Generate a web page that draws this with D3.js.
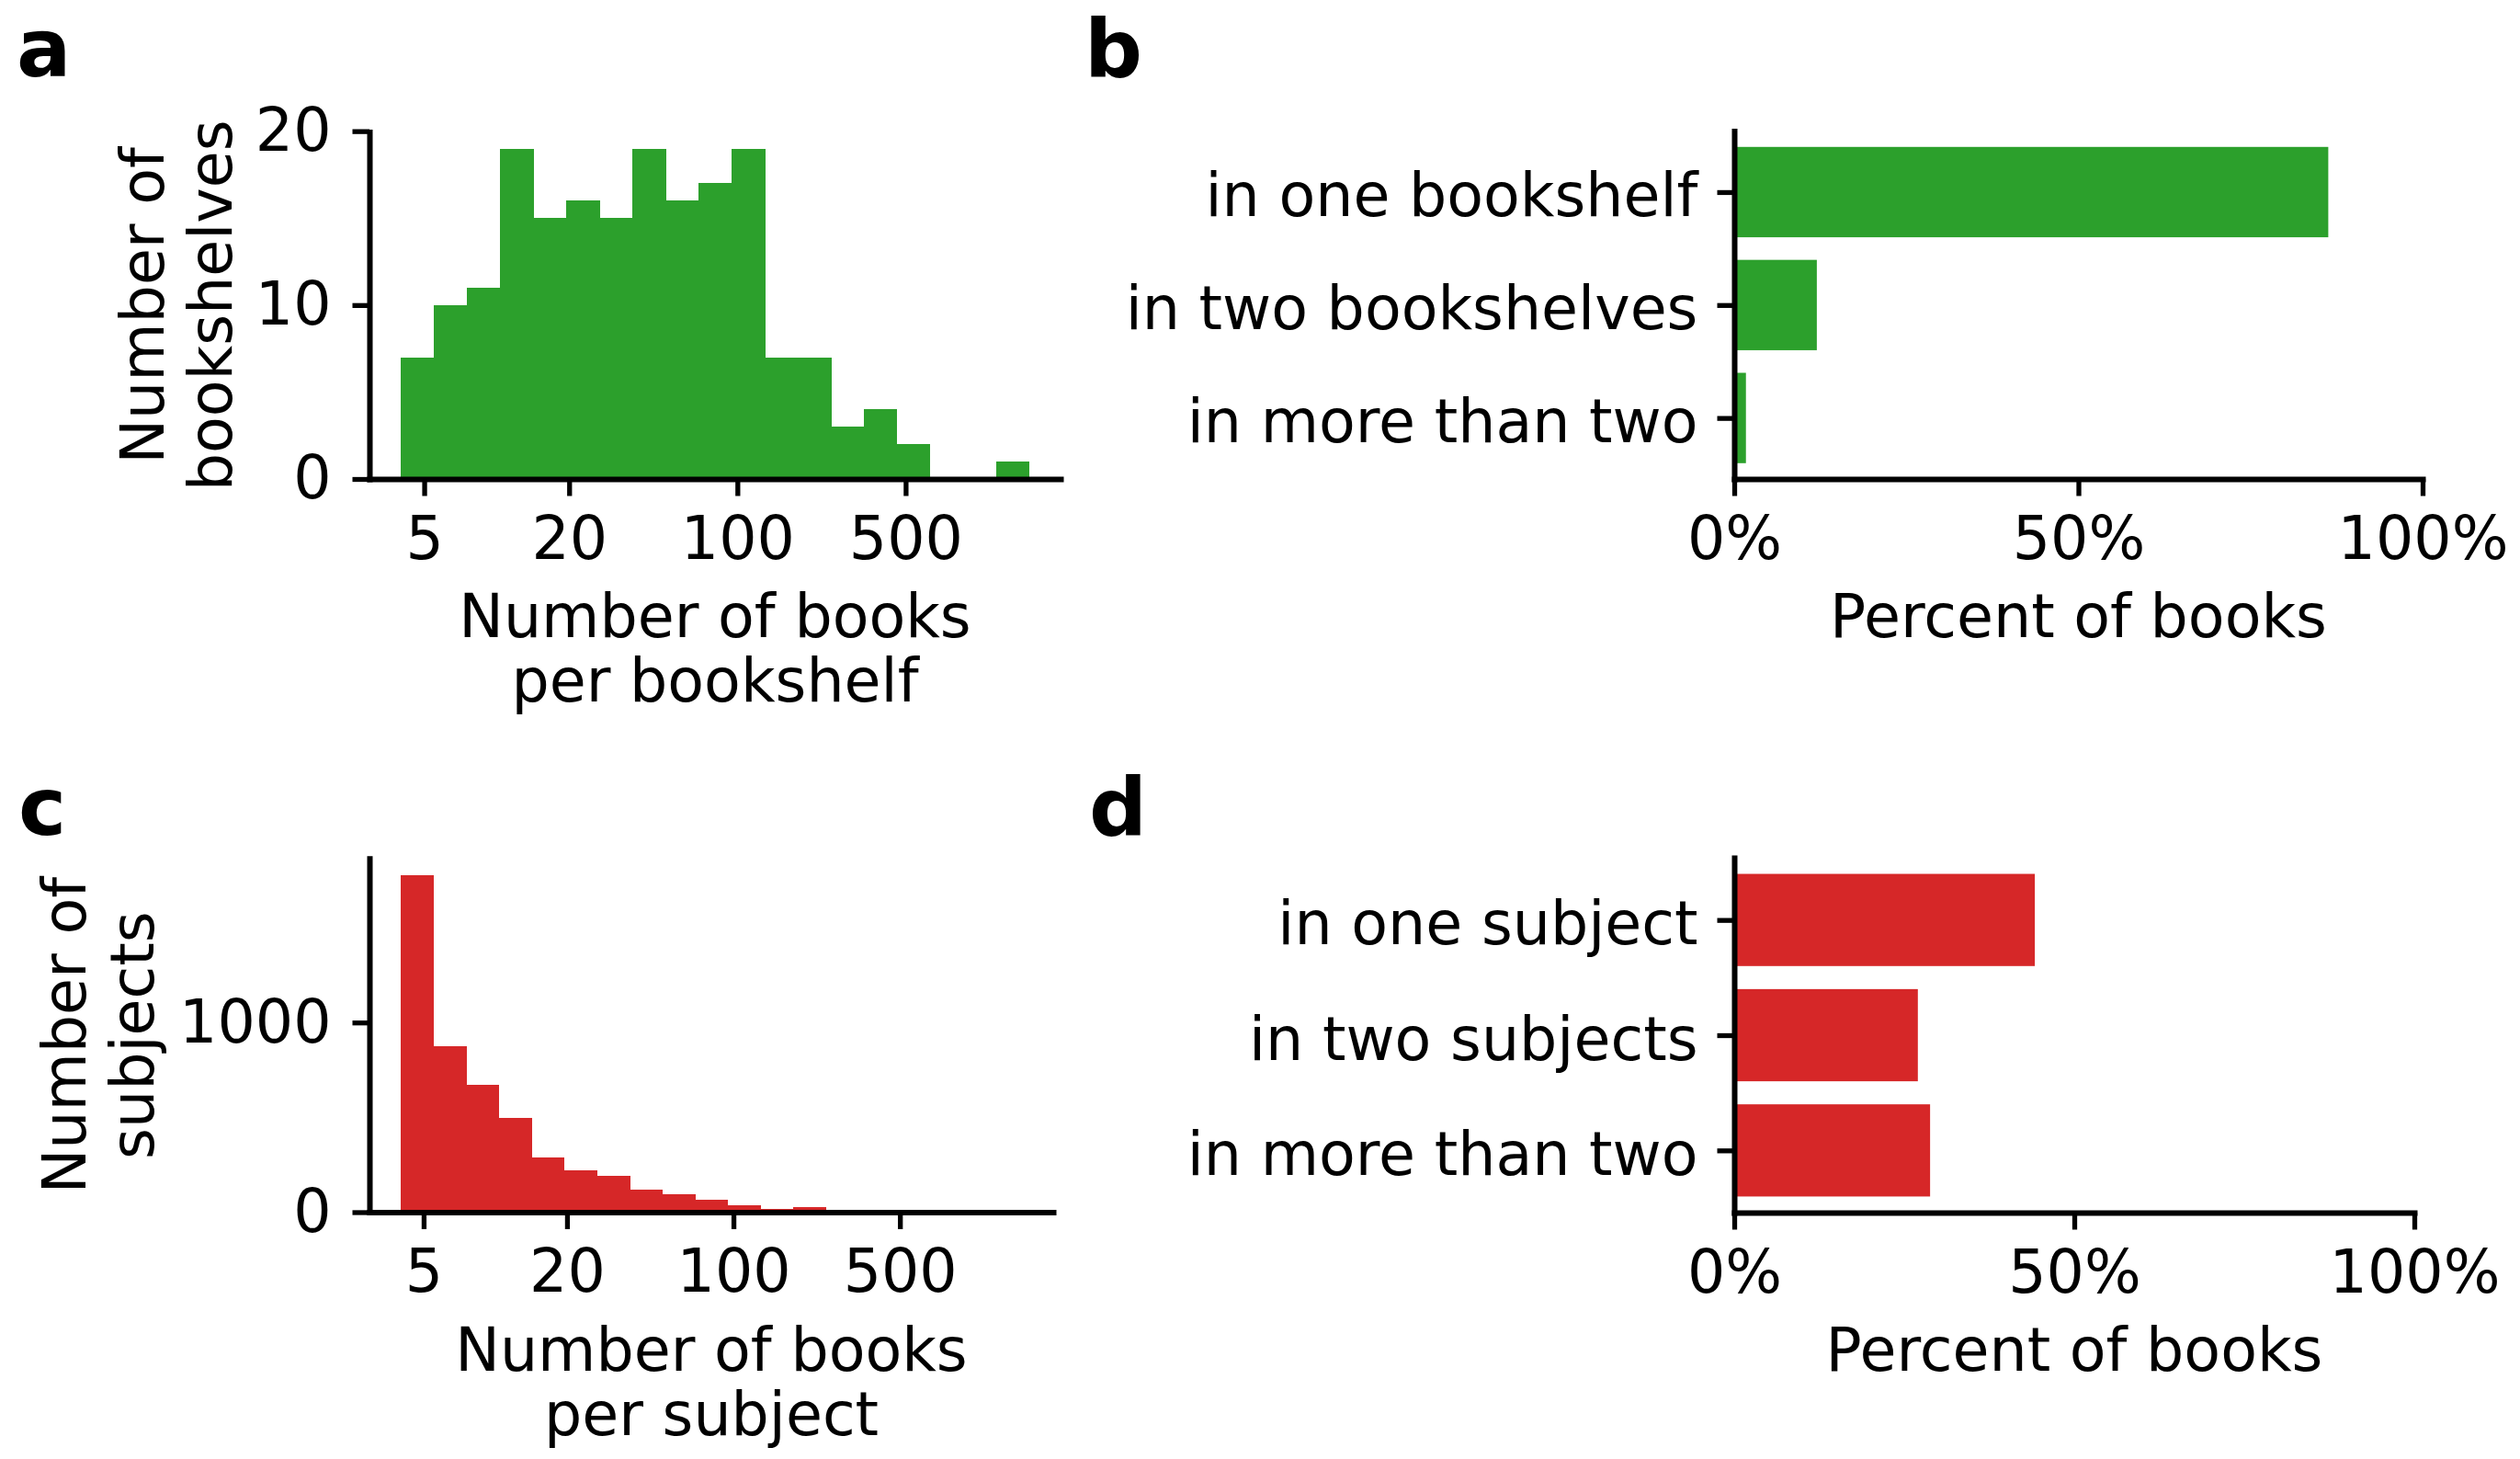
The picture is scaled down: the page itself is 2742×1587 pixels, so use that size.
<!DOCTYPE html>
<html>
<head>
<meta charset="utf-8">
<script src="https://cdn.jsdelivr.net/npm/d3@7"></script>
<style>
  body { margin: 0; background: #fff; }
  svg { display: block; }
  text { font-family: "DejaVu Sans", sans-serif; fill: #000; }
</style>
</head>
<body>
<div id="chart"></div>
<script>
// histogram bins: 19 log-spaced bins between these two edges
const binRange = [4, 1630];
const binCount = 19;

// panel a: bookshelves per bin
const shelfCounts = [7, 10, 11, 19, 15, 16, 15, 19, 16, 17, 19, 7, 7, 3, 4, 2, 0, 0, 1];
// panel c: subjects per bin
const subjectCounts = [1776, 876, 672, 497, 287, 222, 192, 119, 95, 65, 36, 18, 27, 3, 2, 1, 0, 0, 1];

const logTicks = [5, 20, 100, 500];

// panel b
const shelfCategories = ["in one bookshelf", "in two bookshelves", "in more than two"];
const shelfShares = [0.863, 0.120, 0.017];
// panel d
const subjectCategories = ["in one subject", "in two subjects", "in more than two"];
const subjectShares = [0.442, 0.270, 0.288];

const percentTicks = [0, 0.5, 1];

const width = 2742, height = 1587;
const fontSize = 65;
const green = "#2ca02c", red = "#d62728";

const svg = d3.select("#chart").append("svg")
    .attr("width", width)
    .attr("height", height);

const lo = Math.log10(binRange[0]), hi = Math.log10(binRange[1]);
const edges = d3.range(binCount + 1).map(i => Math.pow(10, lo + i * (hi - lo) / binCount));
const pad = 0.05 * (hi - lo);
const xDomain = [Math.pow(10, lo - pad), Math.pow(10, hi + pad)];

function styleAxis(g) {
  g.select(".domain").attr("stroke", "#000").attr("stroke-width", 6).attr("stroke-linecap", "square");
  g.selectAll(".tick line").attr("stroke", "#000").attr("stroke-width", 5.3);
  g.selectAll(".tick text")
      .attr("fill", "#000")
      .style("font-family", "DejaVu Sans")
      .style("font-size", fontSize + "px");
}

function panelLabel(letter, x, y) {
  svg.append("text")
      .attr("x", x).attr("y", y)
      .style("font-size", "88px")
      .style("font-weight", "bold")
      .text(letter);
}

function histogram(p) {
  const x = d3.scaleLog().domain(xDomain).range([p.left, p.right]);
  const yMax = d3.max(p.counts) * 1.05;
  const y = d3.scaleLinear().domain([0, yMax]).range([p.bottom, p.top]);

  svg.append("g")
      .attr("shape-rendering", "crispEdges")
    .selectAll("rect")
    .data(p.counts)
    .join("rect")
      .attr("x", (d, i) => x(edges[i]))
      .attr("width", (d, i) => x(edges[i + 1]) - x(edges[i]) + 0.6)
      .attr("y", d => y(d))
      .attr("height", d => y(0) - y(d))
      .attr("fill", p.color);

  svg.append("g")
      .attr("transform", `translate(0,${p.bottom})`)
      .call(d3.axisBottom(x).tickValues(logTicks).tickFormat(d3.format("d"))
        .tickSize(18.5).tickSizeOuter(0).tickPadding(22))
      .call(styleAxis);

  svg.append("g")
      .attr("transform", `translate(${p.left},0)`)
      .call(d3.axisLeft(y).tickValues(p.yTicks).tickFormat(d3.format("d"))
        .tickSize(18.5).tickSizeOuter(0).tickPadding(23))
      .call(styleAxis);

  const midY = (p.top + p.bottom) / 2;
  p.yLabel.forEach((line, i) => {
    svg.append("text")
        .attr("transform", `translate(${p.yLabelX[i]},${midY}) rotate(-90)`)
        .attr("text-anchor", "middle")
        .style("font-size", fontSize + "px")
        .text(line);
  });

  const midX = (p.left + p.right) / 2;
  p.xLabel.forEach((line, i) => {
    svg.append("text")
        .attr("x", midX)
        .attr("y", p.bottom + 172 + i * 70)
        .attr("text-anchor", "middle")
        .style("font-size", fontSize + "px")
        .text(line);
  });
}

function shareBars(p) {
  const x = d3.scaleLinear().domain([0, 1]).range([p.left, p.right]);
  const y = d3.scaleLinear().domain([-0.54, p.categories.length - 0.46]).range([p.top, p.bottom]);

  svg.append("g")
    .selectAll("rect")
    .data(p.shares)
    .join("rect")
      .attr("x", x(0))
      .attr("y", (d, i) => y(i - 0.4))
      .attr("width", d => x(d) - x(0))
      .attr("height", y(0.8) - y(0))
      .attr("fill", p.color);

  svg.append("g")
      .attr("transform", `translate(0,${p.bottom})`)
      .call(d3.axisBottom(x).tickValues(percentTicks).tickFormat(d3.format(".0%"))
        .tickSize(18.5).tickSizeOuter(0).tickPadding(22))
      .call(styleAxis);

  svg.append("g")
      .attr("transform", `translate(${p.left},0)`)
      .call(d3.axisLeft(y).tickValues(d3.range(p.categories.length)).tickFormat(i => p.categories[i])
        .tickSize(18.5).tickSizeOuter(0).tickPadding(21))
      .call(styleAxis)
      .call(g => g.selectAll(".tick text").attr("dy", "0.40em"));

  svg.append("text")
      .attr("x", (p.left + p.right) / 2)
      .attr("y", p.bottom + 172)
      .attr("text-anchor", "middle")
      .style("font-size", fontSize + "px")
      .text(p.xLabel);
}

histogram({
  left: 402, right: 1154, top: 143.6, bottom: 521,
  counts: shelfCounts, color: green, yTicks: [0, 10, 20],
  yLabel: ["Number of", "bookshelves"], yLabelX: [177.6, 251.5],
  xLabel: ["Number of books", "per bookshelf"]
});

histogram({
  left: 402, right: 1146, top: 933.8, bottom: 1318.5,
  counts: subjectCounts, color: red, yTicks: [0, 1000],
  yLabel: ["Number of", "subjects"], yLabelX: [92.5, 166.5],
  xLabel: ["Number of books", "per subject"]
});

shareBars({
  left: 1887, right: 2636, top: 142.6, bottom: 521,
  categories: shelfCategories, shares: shelfShares, color: green,
  xLabel: "Percent of books"
});

shareBars({
  left: 1887, right: 2627, top: 933, bottom: 1319,
  categories: subjectCategories, shares: subjectShares, color: red,
  xLabel: "Percent of books"
});

panelLabel("a", 18, 83);
panelLabel("b", 1180, 83);
panelLabel("c", 20, 908);
panelLabel("d", 1185, 908);
</script>
</body>
</html>
